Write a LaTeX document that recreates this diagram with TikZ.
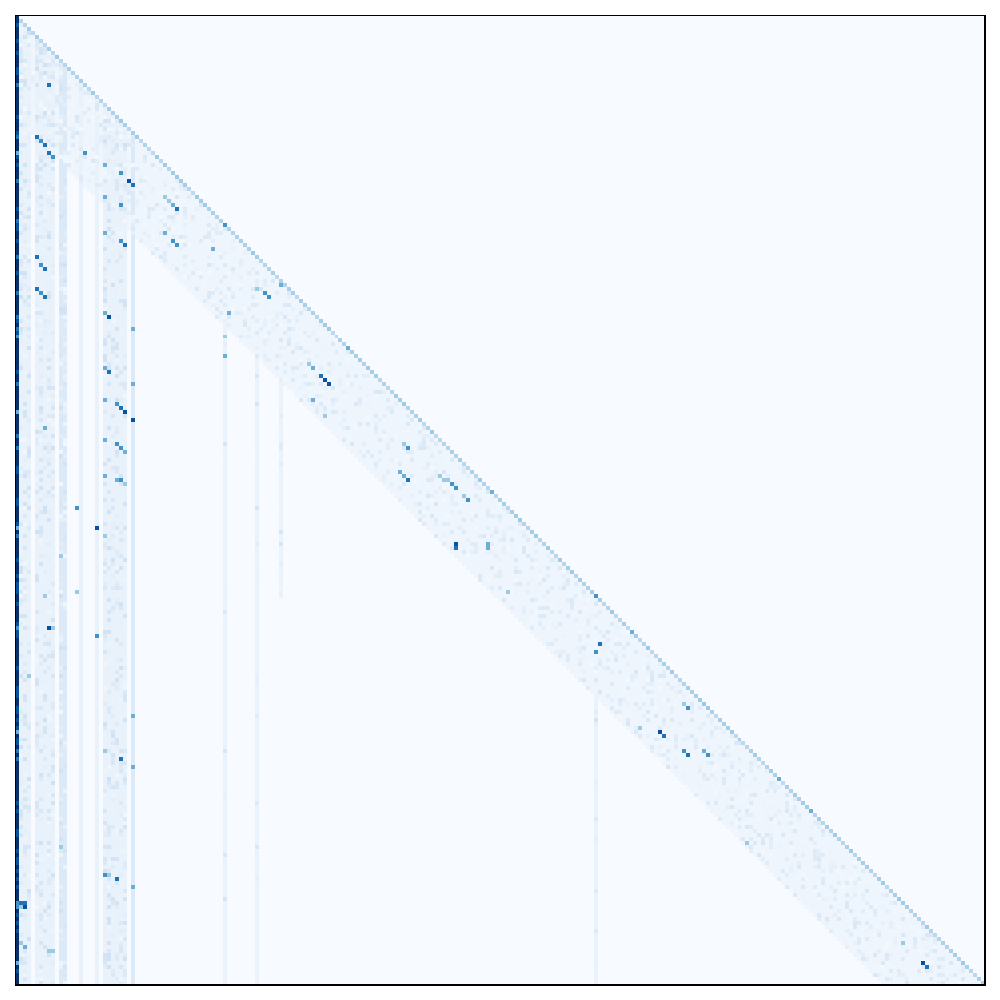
\documentclass[tikz,border=0pt]{standalone}
\usepackage{tikz}
\usetikzlibrary{positioning}
\definecolor{bluesA}{HTML}{F7FBFF}
\definecolor{bluesB}{HTML}{DEEBF7}
\definecolor{bluesC}{HTML}{C6DBEF}
\definecolor{bluesD}{HTML}{9ECAE1}
\definecolor{bluesE}{HTML}{6BAED6}
\definecolor{bluesF}{HTML}{4292C6}
\definecolor{bluesG}{HTML}{2171B5}
\definecolor{bluesH}{HTML}{08519C}
\definecolor{bluesI}{HTML}{08306B}
\tikzset{framebox/.style={draw=black, line width=0.4pt}}
\tikzset{bandfill/.style={fill=bluesB!35!bluesA}}
\tikzset{blockfill/.style={fill=bluesB!55!bluesA}}
\tikzset{strongfill/.style={fill=bluesC!55!bluesA}}
\tikzset{linefill/.style={fill=bluesB!50!bluesA}}
\def\blockcols{{1,2,3,5,6,7,8,9,11,12,22,23,24,25,26,27}}
\newcommand{\hcell}[3]{\fill[#3] ({15.3+3.99*(#1)},{15.3+3.99*(#2)}) rectangle ++(3.99,3.99);}
\newcommand{\hspot}[3]{\pgfmathtruncatemacro\hsc{(#1-15.3)/3.99}\pgfmathtruncatemacro\hsr{(#2-15.3)/3.99}\hcell{\hsc}{\hsr}{#3}}

\begin{document}
\begin{tikzpicture}[x=0.01cm, y=-0.01cm]
    \useasboundingbox (0,0) rectangle (1000,1000);
    \fill[bluesA] (15.3,15.3) rectangle (984.9,984.9);
    \pgfmathsetseed{11}

    % band under the diagonal
    \foreach \r in {1,...,242}{
        \pgfmathtruncatemacro\hc{max(1,\r-25)}
        \fill[bandfill] ({15.3+3.99*\hc},{15.3+3.99*\r}) rectangle ({15.3+3.99*\r},{15.3+3.99*(\r+1)});
    }

    % left block of columns
    \foreach \c in {1,2,3,5,6,7,8,9,16,20,22,23,24,25,26,27}{
        \fill[blockfill] ({15.3+3.99*\c},{15.3+3.99*\c}) rectangle ++(3.99,{3.99*(243-\c)});
    }
    \foreach \c in {11,12,29}{
        \fill[strongfill] ({15.3+3.99*\c},{15.3+3.99*\c}) rectangle ++(3.99,{3.99*(243-\c)});
    }

    % long thin columns
    \foreach \c/\a/\b in {52/77/243,60/85/243,66/91/146,145/170/243}{
        \fill[linefill] ({15.3+3.99*\c},{15.3+3.99*\a}) rectangle ({15.3+3.99*(\c+1)},{15.3+3.99*\b});
        \foreach \k in {1,...,12}{
            \pgfmathtruncatemacro\hr{random(\a,\b-1)}
            \pgfmathtruncatemacro\hp{random(20,70)}
            \hcell{\c}{\hr}{bluesC!\hp!bluesA}
        }
    }

    % texture in the band
    \foreach \r in {2,...,242}{
        \foreach \k in {1,...,8}{
            \pgfmathtruncatemacro\hc{max(1,\r-random(1,25))}
            \pgfmathtruncatemacro\hp{random(8,60)}
            \hcell{\hc}{\r}{bluesC!\hp!bluesA}
        }
    }

    % texture in the left block
    \foreach \r in {2,...,242}{
        \foreach \k in {1,...,6}{
            \pgfmathtruncatemacro\hi{random(0,15)}
            \pgfmathtruncatemacro\hc{\blockcols[\hi]}
            \pgfmathtruncatemacro\hp{random(15,80)}
            \ifnum\hc<\r \hcell{\hc}{\r}{bluesC!\hp!bluesA}\fi
        }
    }

    % diagonal
    \foreach \r in {1,...,242}{
        \pgfmathtruncatemacro\hp{random(15,100)}
        \hcell{\r}{\r}{bluesD!\hp!bluesC}
    }

    % first column
    \fill[bluesI] (15.3,15.3) rectangle ++(3.99,{3.99*243});
    \foreach \k in {1,...,70}{
        \pgfmathtruncatemacro\hr{random(2,242)}
        \hcell{0}{\hr}{bluesH}
    }
    \foreach \y/\cl in {85/bluesG,137/bluesG,153/bluesE,180/bluesG,222/bluesG,257/bluesG,293/bluesG,
        317/bluesG,330/bluesG,337/bluesF,383/bluesG,412/bluesE,437/bluesG,447/bluesG,530/bluesE,
        537/bluesG,627/bluesF,733/bluesE,752/bluesG,760/bluesG,905/bluesF,909/bluesF,963/bluesE}{
        \hspot{17}{\y}{\cl}
    }

    % strong cells
    \foreach \x/\y/\cl in {48/87/bluesG,37/137/bluesG,40/142/bluesF,44/146/bluesG,48/154/bluesG,
        52/158/bluesF,87/154/bluesF,107/166/bluesE,123/173/bluesF,130/181/bluesH,134/185/bluesG,
        107/197/bluesE,123/205/bluesF,166/197/bluesD,169/201/bluesD,173/205/bluesE,177/209/bluesG,
        107/232/bluesE,123/239/bluesF,127/243/bluesG,166/232/bluesE,173/240/bluesF,177/244/bluesF,
        224/224/bluesF,212/248/bluesE,252/252/bluesD,282/283/bluesE,350/348/bluesE,
        36/258/bluesG,40/263/bluesF,44/267/bluesG,36/287/bluesG,40/291/bluesF,44/295/bluesG,
        107/313/bluesE,111/318/bluesH,134/330/bluesE,107/369/bluesE,111/373/bluesG,134/385/bluesE,
        107/400/bluesE,119/404/bluesF,123/408/bluesG,127/412/bluesH,134/420/bluesH,44/428/bluesE,
        107/439/bluesE,119/443/bluesF,123/447/bluesF,127/451/bluesE,107/475/bluesE,119/479/bluesE,
        123/482/bluesF,127/485/bluesD,79/510/bluesF,99/529/bluesH,107/537/bluesD,
        230/314/bluesE,224/338/bluesD,224/357/bluesE,258/287/bluesD,263/291/bluesF,267/295/bluesF,
        310/365/bluesD,314/369/bluesE,322/377/bluesG,326/381/bluesH,330/385/bluesH,313/400/bluesE,
        323/416/bluesD,404/443/bluesD,408/447/bluesF,400/474/bluesE,404/478/bluesE,408/482/bluesG,
        439/475/bluesD,443/479/bluesD,447/482/bluesD,451/486/bluesF,455/490/bluesF,463/498/bluesD,
        467/502/bluesF,494/494/bluesE,455/545/bluesH,455/549/bluesG,490/545/bluesE,490/549/bluesE,
        510/592/bluesD,596/596/bluesF,600/643/bluesG,596/651/bluesF,631/631/bluesE,639/729/bluesD,
        682/705/bluesD,686/709/bluesF,658/733/bluesH,662/737/bluesG,682/752/bluesF,686/756/bluesG,
        705/752/bluesE,709/756/bluesF,748/842/bluesD,780/779/bluesE,811/811/bluesE,
        905/943/bluesD,924/963/bluesH,928/967/bluesG,
        48/627/bluesH,52/627/bluesD,99/635/bluesF,134/717/bluesE,107/752/bluesD,123/760/bluesG,
        134/768/bluesE,107/877/bluesF,111/877/bluesD,119/881/bluesG,134/889/bluesE,
        21/905/bluesG,25/905/bluesG,25/909/bluesH,21/909/bluesD,21/943/bluesD,25/947/bluesE,
        48/952/bluesD,52/952/bluesD,60/849/bluesD,60/557/bluesD,79/592/bluesD,44/595/bluesD,
        28/677/bluesD}{
        \hspot{\x}{\y}{\cl}
    }

    \draw[framebox] (15.3,15.3) rectangle (984.9,984.9);
\end{tikzpicture}
\end{document}
